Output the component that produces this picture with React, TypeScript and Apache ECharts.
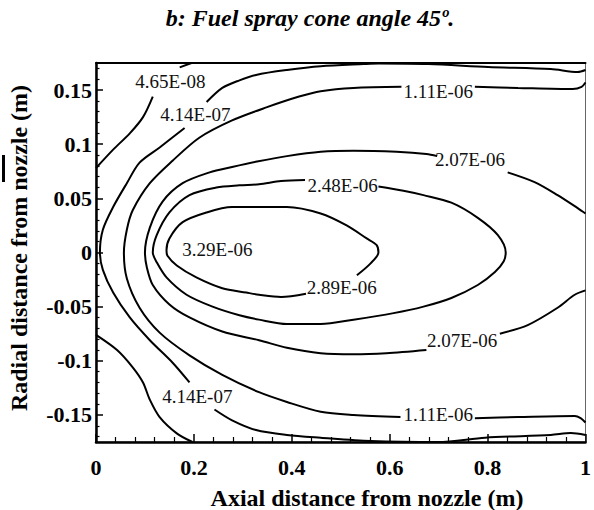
import React, { useEffect, useRef } from "react";
import * as echarts from "echarts";

// Axis ticks
const xTicks = [0, 0.2, 0.4, 0.6, 0.8, 1];
const yTicks = [-0.15, -0.1, -0.05, 0, 0.05, 0.1, 0.15];
const yTickLabels = ["-0.15", "-0.1", "-0.05", "0", "0.05", "0.1", "0.15"];
const yMinorTicks: number[] = [];
for (let i = -17; i <= 17; i++) if (i % 5 !== 0) yMinorTicks.push(i / 100);

// Contour 4.65E-08
const contour465Top = [[0, 0.078], [0.035, 0.095], [0.069, 0.11], [0.096, 0.125], [0.116, 0.144]];
const contour465TopEnd = [[0.171, 0.171], [0.195, 0.175]];
const contour465Bottom = [[0, -0.076], [0.043, -0.09], [0.075, -0.106], [0.096, -0.12], [0.11, -0.136], [0.13, -0.152], [0.165, -0.167], [0.197, -0.175]];

// Contour 4.14E-07
const contour414Top = [[1.0, 0.1685], [0.984, 0.1667], [0.929, 0.1694], [0.801, 0.1713], [0.679, 0.174], [0.577, 0.1745], [0.547, 0.174], [0.459, 0.172], [0.39, 0.1685], [0.327, 0.164], [0.293, 0.159], [0.258, 0.152], [0.226, 0.139]];
const contour414Mid = [[0.181, 0.115], [0.13, 0.097], [0.089, 0.083], [0.063, 0.064], [0.035, 0.042], [0.014, 0.021], [0.008, 0.0], [0.014, -0.016], [0.035, -0.037], [0.069, -0.06], [0.11, -0.081], [0.157, -0.102], [0.191, -0.12]];
const contour414Bottom = [[0.242, -0.145], [0.278, -0.155], [0.327, -0.164], [0.39, -0.1685], [0.459, -0.171], [0.561, -0.174], [0.699, -0.175], [0.795, -0.171], [0.929, -0.1685], [0.97, -0.1667], [1.0, -0.1685]];

// Contour 1.11E-06
const contour111Top = [[1.0, 0.157], [0.992, 0.153], [0.974, 0.151], [0.862, 0.152], [0.774, 0.153]];
const contour111Mid = [[0.624, 0.153], [0.526, 0.152], [0.459, 0.149], [0.415, 0.144], [0.348, 0.134], [0.278, 0.122], [0.211, 0.106], [0.157, 0.085], [0.11, 0.064], [0.075, 0.039], [0.063, 0.021], [0.057, 0.0], [0.063, -0.024], [0.089, -0.051], [0.13, -0.074], [0.191, -0.095], [0.258, -0.113], [0.333, -0.129], [0.39, -0.138], [0.459, -0.147], [0.526, -0.15], [0.622, -0.152]];
const contour111Bottom = [[0.774, -0.153], [0.862, -0.152], [0.978, -0.151], [0.99, -0.153], [1.0, -0.157]];

// Contour 2.07E-06
const contour207Top = [[1.0, 0.036], [0.984, 0.041], [0.943, 0.053], [0.896, 0.065], [0.841, 0.074]];
const contour207Mid = [[0.697, 0.089], [0.675, 0.091], [0.614, 0.093], [0.526, 0.094], [0.459, 0.093], [0.39, 0.089], [0.329, 0.084], [0.278, 0.079], [0.232, 0.074], [0.177, 0.064], [0.136, 0.047], [0.11, 0.023], [0.1, 0.0], [0.104, -0.014], [0.116, -0.03], [0.15, -0.048], [0.191, -0.06], [0.258, -0.073], [0.333, -0.081], [0.39, -0.088], [0.459, -0.093], [0.526, -0.094], [0.593, -0.093], [0.675, -0.09]];
const contour207Bottom = [[0.825, -0.075], [0.882, -0.067], [0.943, -0.051], [0.978, -0.039], [1.0, -0.035]];

// Contour 2.48E-06
const contour248 = [[0.577, 0.061], [0.628, 0.057], [0.669, 0.053], [0.726, 0.046], [0.78, 0.032], [0.821, 0.016], [0.837, 0.0], [0.833, -0.008], [0.815, -0.018], [0.78, -0.03], [0.726, -0.042], [0.669, -0.05], [0.608, -0.056], [0.526, -0.062], [0.459, -0.066], [0.39, -0.066], [0.333, -0.062], [0.293, -0.058], [0.238, -0.05], [0.185, -0.039], [0.144, -0.023], [0.124, -0.009], [0.116, 0.0], [0.124, 0.016], [0.15, 0.037], [0.191, 0.053], [0.246, 0.06], [0.293, 0.062], [0.333, 0.063], [0.378, 0.066], [0.427, 0.067]];

// Contour 2.89E-06
const contour289 = [[0.533, -0.021], [0.561, -0.01], [0.577, 0.0], [0.573, 0.007], [0.553, 0.013], [0.512, 0.025], [0.459, 0.036], [0.39, 0.042], [0.333, 0.042], [0.278, 0.042], [0.226, 0.037], [0.177, 0.028], [0.15, 0.013], [0.144, 0.002], [0.146, -0.003], [0.165, -0.012], [0.205, -0.023], [0.258, -0.033], [0.307, -0.037], [0.333, -0.039], [0.378, -0.041], [0.429, -0.038]];

// Contour labels
const labelTexts = ["4.65E-08", "4.14E-07", "4.14E-07", "1.11E-06", "1.11E-06", "2.07E-06", "2.07E-06", "2.48E-06", "2.89E-06", "3.29E-06"];
const labelXs = [0.152, 0.203, 0.207, 0.699, 0.699, 0.764, 0.748, 0.504, 0.502, 0.248];
const labelYs = [0.158, 0.127, -0.133, 0.149, -0.15, 0.086, -0.081, 0.062, -0.032, 0.003];

const segments = [
  contour465Top, contour465TopEnd, contour465Bottom,
  contour414Top, contour414Mid, contour414Bottom,
  contour111Top, contour111Mid, contour111Bottom,
  contour207Top, contour207Mid, contour207Bottom,
  contour248, contour289,
];

export default function App() {
  const ref = useRef<HTMLDivElement>(null);
  useEffect(() => {
    const chart = echarts.init(ref.current!, null, { renderer: "svg" });
    const serif = "'Liberation Serif', 'Times New Roman', serif";
    const lineSeries = segments.map((seg) => ({
      type: "line",
      data: seg,
      xAxisIndex: 0,
      yAxisIndex: 0,
      symbol: "none",
      smooth: 0.3,
      lineStyle: { color: "#000", width: 2 },
      silent: true,
      z: 2,
    }));
    const labelSeries = {
      type: "scatter",
      xAxisIndex: 0,
      yAxisIndex: 0,
      data: labelTexts.map((t, i) => ({ name: t, value: [labelXs[i], labelYs[i]] })),
      symbolSize: 1,
      itemStyle: { color: "rgba(0,0,0,0)", opacity: 1 },
      label: {
        show: true,
        position: "inside",
        formatter: "{b}",
        fontFamily: serif,
        fontSize: 19,
        color: "#111",
      },
      silent: true,
      z: 3,
    };
    chart.setOption({
      animation: false,
      grid: { left: 96, right: 6, top: 63, bottom: 68, show: true, borderColor: "#666", borderWidth: 1 },
      xAxis: [
        {
          type: "value",
          min: 0,
          max: 1,
          interval: 0.2,
          position: "bottom",
          axisLine: { show: true, onZero: false, lineStyle: { color: "#000", width: 2.5 } },
          axisTick: { show: true, inside: true, length: 8, lineStyle: { color: "#000", width: 1.5 } },
          minorTick: { show: true, splitNumber: 5, length: 5, lineStyle: { color: "#000", width: 1.2 } },
          axisLabel: {
            margin: 14,
            fontFamily: serif,
            fontSize: 22,
            fontWeight: "bold",
            color: "#000",
            formatter: (v: number) => {
              const i = xTicks.indexOf(v);
              return i >= 0 ? String(xTicks[i]) : "";
            },
          },
          splitLine: { show: false },
        },
        {
          type: "value",
          min: 0,
          max: 1,
          position: "top",
          axisLine: { show: true, onZero: false, lineStyle: { color: "#000", width: 2 } },
          axisTick: { show: false },
          axisLabel: { show: false },
          splitLine: { show: false },
        },
      ],
      yAxis: [
        {
          type: "value",
          min: -0.175,
          max: 0.175,
          position: "left",
          axisLine: { show: true, onZero: false, lineStyle: { color: "#000", width: 2.5 } },
          axisTick: { show: true, inside: true, length: 7, customValues: yTicks, lineStyle: { color: "#000", width: 1.5 } },
          axisLabel: {
            customValues: yTicks,
            margin: 4,
            fontFamily: serif,
            fontSize: 22,
            fontWeight: "bold",
            color: "#000",
            formatter: (v: number) => {
              let best = 0;
              for (let i = 0; i < yTicks.length; i++) if (Math.abs(yTicks[i] - v) < Math.abs(yTicks[best] - v)) best = i;
              return yTickLabels[best];
            },
          },
          splitLine: { show: false },
        },
        {
          type: "value",
          min: -0.175,
          max: 0.175,
          position: "left",
          axisLine: { show: false, onZero: false },
          axisTick: { show: true, inside: true, length: 3.5, customValues: yMinorTicks, lineStyle: { color: "#000", width: 1.2 } },
          axisLabel: { show: false },
          splitLine: { show: false },
        },
      ],
      series: [...lineSeries, labelSeries],
      graphic: [
        {
          type: "text",
          x: 310,
          y: 18,
          style: {
            text: "b: Fuel spray cone angle 45º.",
            font: "italic bold 24px 'Liberation Serif', serif",
            fill: "#000",
            textAlign: "center",
            verticalAlign: "middle",
          },
        },
        {
          type: "text",
          x: 367,
          y: 498,
          style: {
            text: "Axial distance from nozzle (m)",
            font: "bold 24px 'Liberation Serif', serif",
            fill: "#000",
            textAlign: "center",
            verticalAlign: "middle",
          },
        },
        {
          type: "text",
          x: 19,
          y: 248,
          rotation: Math.PI / 2,
          style: {
            text: "Radial distance from nozzle (m)",
            font: "bold 24px 'Liberation Serif', serif",
            fill: "#000",
            textAlign: "center",
            verticalAlign: "middle",
          },
        },
        {
          type: "rect",
          shape: { x: 2, y: 155, width: 3, height: 27 },
          style: { fill: "#000" },
        },
      ],
    });
    return () => chart.dispose();
  }, []);
  return (
    <div
      ref={ref}
      style={{ position: "absolute", left: 0, top: 0, width: 594, height: 510, background: "#fff" }}
    />
  );
}
